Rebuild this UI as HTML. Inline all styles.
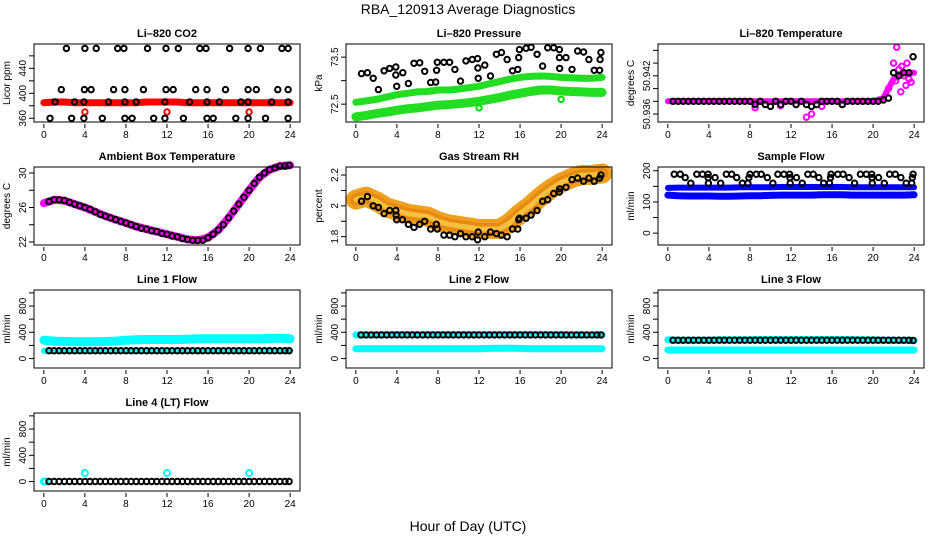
<!DOCTYPE html>
<html><head><meta charset="utf-8"><style>
html,body{margin:0;padding:0;background:#fff;}
svg{display:block;font-family:"Liberation Sans",sans-serif;}
</style></head><body>
<svg id="chart" width="936" height="540" viewBox="0 0 936 540" xmlns="http://www.w3.org/2000/svg">
<rect width="936" height="540" fill="#fff"/>
<text x="468" y="14" text-anchor="middle" font-size="14">RBA_120913  Average Diagnostics</text>
<text x="468" y="531" text-anchor="middle" font-size="14">Hour of Day (UTC)</text>
</svg>
<script>
const H25=[0,1,2,3,4,5,6,7,8,9,10,11,12,13,14,15,16,17,18,19,20,21,22,23,24];
const T48=[0.5,1,1.5,2,2.5,3,3.5,4,4.5,5,5.5,6,6.5,7,7.5,8,8.5,9,9.5,10,10.5,11,11.5,12,12.5,13,13.5,14,14.5,15,15.5,16,16.5,17,17.5,18,18.5,19,19.5,20,20.5,21,21.5,22,22.5,23,23.5,23.9];
const xTicks=[0,4,8,12,16,20,24];

// CO2
const co2Band=[385,386,386,385,385,385,385,385,385,385,386,386,386,386,385,385,385,385,385,385,385,385,385,385,385];
const co2OutT=[4,12,20];
const co2OutV=[370,370,370];
const co2BlackT=[2.2,4.0,5.1,7.2,7.8,10.1,11.9,13.1,15.2,15.8,18.1,19.9,21.1,23.2,23.8,1.7,3.95,4.6,6.8,7.9,9.7,11.9,12.6,14.8,15.9,17.7,19.9,20.7,22.8,23.8,1.1,3.0,3.9,6.3,7.9,9.0,11.8,14.2,15.9,17.1,19.2,19.9,22.2,23.8,0.6,2.7,3.9,5.7,7.9,8.6,10.7,11.8,13.6,15.9,16.5,18.7,19.9,21.6,23.8];
const co2BlackV=[472,472,472,472,472,472,472,472,472,472,472,472,472,472,472,406,406,406,406,406,406,406,406,406,406,406,406,406,406,406,386,386,386,386,386,386,386,386,386,386,386,386,386,386,360,360,360,360,360,360,360,360,360,360,360,360,360,360,360];

// Pressure
const presUpper=[72.54,72.57,72.6,72.65,72.7,72.73,72.76,72.77,72.8,72.8,72.82,72.85,72.88,72.93,72.98,73.03,73.07,73.09,73.1,73.09,73.07,73.06,73.05,73.05,73.07];
const presLower=[72.23,72.26,72.3,72.33,72.37,72.4,72.42,72.45,72.48,72.49,72.51,72.53,72.56,72.6,72.64,72.69,72.73,72.77,72.8,72.8,72.78,72.77,72.76,72.75,72.75];
const presOutT=[12,20];
const presOutV=[72.42,72.6];
const presBlackT=[0.55,1.13,1.69,2.2,2.75,3.3,3.89,3.89,3.98,4.57,5.12,5.67,6.22,6.71,7.29,7.78,7.87,7.94,8.58,9.14,9.65,10.2,10.72,11.34,11.86,11.89,11.92,12.57,13.12,13.7,14.19,14.74,15.26,15.78,15.87,15.94,16.59,17.08,17.66,18.2,18.69,19.28,19.83,19.83,19.86,20.48,21.06,21.61,22.19,22.71,23.23,23.75,23.8,23.88];
const presBlackV=[73.15,73.17,73.05,72.81,73.21,73.26,73.29,73.12,72.88,73.17,72.94,73.37,73.38,73.2,72.96,72.97,73.22,73.39,73.39,73.39,73.24,72.99,73.42,73.45,73.47,73.27,73.05,73.33,73.1,73.56,73.6,73.45,73.21,73.24,73.49,73.66,73.69,73.71,73.56,73.31,73.7,73.7,73.66,73.49,73.26,73.49,73.24,73.63,73.61,73.45,73.22,73.22,73.45,73.6];

// Li-820 temperature
const ltBand=[50.938,50.938,50.938,50.938,50.938,50.938,50.938,50.938,50.938,50.938,50.938,50.938,50.938,50.938,50.938,50.938,50.938,50.938,50.938,50.938,50.938,50.9385,50.9415,50.9425,50.9425];
const ltOutT=[21.5,22,22.3,22.5,22.8,23,23.3,23.5,23.7,22.7,13.5,14,8.5,17,11,15,22.2,23.2];
const ltOutV=[50.940,50.944,50.9465,50.943,50.9435,50.942,50.944,50.9415,50.941,50.9395,50.9355,50.936,50.937,50.9375,50.9373,50.9372,50.9412,50.9405];
const ltBlackV=[50.938,50.938,50.938,50.938,50.938,50.938,50.938,50.938,50.938,50.938,50.938,50.938,50.938,50.938,50.938,50.938,50.9375,50.938,50.9375,50.9372,50.938,50.9375,50.938,50.938,50.9375,50.938,50.9375,50.9372,50.9375,50.938,50.938,50.938,50.938,50.9375,50.938,50.938,50.938,50.938,50.938,50.938,50.938,50.9382,50.9385,50.9425,50.942,50.9425,50.9425,50.945];

// Ambient box temperature
const ambBand=[26.5,26.9,26.8,26.4,26.0,25.5,25.0,24.6,24.2,23.8,23.5,23.2,22.9,22.6,22.3,22.2,22.5,23.4,24.8,26.4,28.0,29.5,30.4,30.8,30.9];
const ambBlackV=[26.7,26.9,26.9,26.8,26.6,26.4,26.2,26.0,25.8,25.5,25.2,25.0,24.8,24.6,24.4,24.2,24.0,23.8,23.6,23.5,23.3,23.2,23.0,22.9,22.7,22.6,22.4,22.3,22.2,22.2,22.2,22.5,22.9,23.4,24.0,24.8,25.6,26.4,27.2,28.0,28.8,29.5,30.0,30.4,30.6,30.8,30.8,30.9];

// Gas stream RH
const rhBand=[2.04,2.06,2.03,1.99,1.97,1.95,1.94,1.93,1.9,1.88,1.87,1.86,1.85,1.85,1.85,1.89,1.95,2.0,2.06,2.11,2.15,2.18,2.2,2.2,2.21];
const rhBlackT=[0.55,1.13,1.69,2.2,2.75,3.3,3.89,3.92,3.98,4.54,5.12,5.67,6.22,6.71,7.29,7.84,7.94,8.58,9.14,9.65,10.2,10.72,11.34,11.86,11.92,12.57,13.12,13.7,14.19,14.74,15.26,15.78,15.87,15.94,16.59,17.08,17.66,18.2,18.69,19.28,19.83,19.86,20.48,21.06,21.61,22.19,22.71,23.23,23.75,23.88];
const rhBlackV=[2.03,2.06,2.0,1.99,1.95,1.97,1.97,1.94,1.91,1.91,1.88,1.86,1.88,1.9,1.85,1.88,1.85,1.81,1.81,1.8,1.82,1.8,1.8,1.78,1.83,1.8,1.83,1.82,1.81,1.8,1.85,1.85,1.91,1.92,1.92,1.94,1.97,2.03,2.04,2.08,2.09,2.11,2.12,2.17,2.18,2.16,2.18,2.16,2.18,2.2];

// Sample flow
const sfUpper=[145,146,146,146,146,146,146,147,147,147,147,148,148,148,148,148,148,148,147,147,147,147,147,147,147];
const sfLower=[122,120,119,119,119,118,118,119,120,120,121,122,122,122,122,123,123,123,122,122,122,122,122,122,123];
const sfBlackT=[0.62,1.2,1.69,2.24,2.82,3.37,3.92,3.92,3.95,4.6,5.15,5.7,6.22,6.71,7.26,7.8,7.9,8.0,8.62,9.1,9.69,10.24,10.72,11.31,11.86,11.89,11.92,12.54,13.09,13.64,14.16,14.71,15.19,15.75,15.85,15.9,16.56,17.08,17.66,18.2,18.76,19.34,19.86,19.89,19.92,20.54,21.09,21.61,22.16,22.71,23.23,23.76,23.82,23.9];
const sfBlackV=[189,189,178,160,189,189,189,178,160,178,160,189,189,178,160,160,178,189,189,189,178,160,189,189,189,178,160,178,160,189,189,178,160,160,178,189,189,189,178,160,189,189,189,178,160,178,160,189,189,178,160,160,178,189];

// Line flows
const l1CyanUpper=[280,265,260,255,255,255,260,265,280,285,290,290,290,290,295,300,300,300,300,300,300,300,305,310,300];
const l1CyanLower=[120,120,120,120,120,120,120,120,120,120,120,120,120,120,120,120,120,120,120,120,120,120,120,120,120];
const l1BlackV=[120,120,120,120,120,120,120,120,120,120,120,120,120,120,120,120,120,120,120,120,120,120,120,120,120,120,120,120,120,120,120,120,120,120,120,120,120,120,120,120,120,120,120,120,120,120,120,120];
const l2CyanUpper=[360,360,360,365,365,365,365,365,365,365,365,365,365,365,365,365,365,365,365,365,365,360,360,360,360];
const l2CyanLower=[150,148,148,150,150,150,150,150,150,150,150,150,150,155,158,158,155,150,150,150,150,150,148,148,150];
const l2BlackV=[360,360,360,360,360,360,360,360,360,360,360,360,360,360,360,360,360,360,360,360,360,360,360,360,360,360,360,360,360,360,360,360,360,360,360,360,360,360,360,360,360,360,360,360,360,360,360,360];
const l3CyanUpper=[285,280,280,280,280,285,285,285,285,290,290,290,290,290,290,290,290,290,290,285,285,280,280,275,275];
const l3CyanLower=[130,130,130,130,130,130,130,130,130,130,130,130,130,130,130,130,130,130,130,130,130,130,130,130,130];
const l3BlackV=[280,280,280,280,280,280,280,280,280,280,280,280,280,280,280,280,280,280,280,280,280,280,280,280,280,280,280,280,280,280,280,280,280,280,280,280,280,280,280,280,280,280,280,280,280,280,280,275];
const l4CyanT=[0,0.15,4,12,20];
const l4CyanV=[0,0,130,130,130];
const l4BlackV=[0,0,0,0,0,0,0,0,0,0,0,0,0,0,0,0,0,0,0,0,0,0,0,0,0,0,0,0,0,0,0,0,0,0,0,0,0,0,0,0,0,0,0,0,0,0,0,0];

const NS="http://www.w3.org/2000/svg";
const svg=document.getElementById('chart');
const colL=[34,346,658], rowT=[44,167,290,413], PW=266, PH=78;
const XMIN=-0.96, XMAX=24.96;

function mk(tag,attrs,parent){const e=document.createElementNS(NS,tag);for(const k in attrs)e.setAttribute(k,attrs[k]);(parent||svg).appendChild(e);return e;}

function makePanel(col,row,title,ylab,ylim,yticks,ylabels){
  const L=colL[col],T=rowT[row];
  const g=mk('g',{});
  
  
  const sx=t=>L+(t-XMIN)/(XMAX-XMIN)*PW;
  const sy=v=>T+PH-(v-ylim[0])/(ylim[1]-ylim[0])*PH;
  const tt=mk('text',{x:L+PW/2,y:T-7,'text-anchor':'middle','font-size':'11','font-weight':'bold'},g);
  tt.textContent=title;
  
  
  const yl=mk('text',{transform:`translate(${L-24},${T+PH/2}) rotate(-90)`,'text-anchor':'middle','font-size':'10'},g);
  yl.textContent=ylab;
  
  
  xTicks.forEach(t=>{
    const x=sx(t);
    const tk=mk('line',{x1:x,y1:T+PH+2,x2:x,y2:T+PH+6,stroke:'#000','stroke-width':1},g);
    
    
    const lb=mk('text',{x:x,y:T+PH+16,'text-anchor':'middle','font-size':'10'},g);
    lb.textContent=t;
    
    
  });
  yticks.forEach(v=>{
    const y=sy(v);
    const tk=mk('line',{x1:L-5,y1:y,x2:L,y2:y,stroke:'#000','stroke-width':1},g);
    
    
  });
  ylabels.forEach(v=>{
    const y=sy(v);
    const lb=mk('text',{transform:`translate(${L-8},${y}) rotate(-90)`,'text-anchor':'middle','font-size':'10'},g);
    lb.textContent=String(v);
    
    
  });
  const marks=mk('g',{},g);
  
  
  const box=mk('rect',{x:L,y:T,width:PW,height:PH,fill:'none',stroke:'#000','stroke-width':1},g);
  
  
  return {sx,sy,g:marks};
}
function band(p,ts,vs,color,w,name){
  const pts=ts.map((t,i)=>p.sx(t).toFixed(1)+','+p.sy(vs[i]).toFixed(1)).join(' ');
  const pl=mk('polyline',{points:pts,fill:'none',stroke:color,'stroke-width':w,'stroke-linejoin':'round','stroke-linecap':'round'},p.g);
  
  
}
function pts(p,ts,vs,color,name,r){
  ts.forEach((t,i)=>{
    const c=mk('circle',{cx:p.sx(t).toFixed(1),cy:p.sy(vs[i]).toFixed(1),r:r||2.7,fill:'none',stroke:color,'stroke-width':2},p.g);
    
    
  });
}

let p;
p=makePanel(0,0,'Li\u2013820 CO2','Licor ppm',[354,479],[360,380,400,420,440,460],[360,400,440]);
band(p,H25,co2Band,'#ff0000',7,'co2-band');
pts(p,co2OutT,co2OutV,'#ff0000','co2-outlier');
pts(p,co2BlackT,co2BlackV,'#000','co2-point');

p=makePanel(1,0,'Li\u2013820 Pressure','kPa',[72.12,73.78],[72.5,73.0,73.5],[72.5,73.5]);
band(p,H25,presUpper,'#22dd22',7,'pressure-upper-band');
band(p,H25,presLower,'#22dd22',9,'pressure-lower-band');
pts(p,presOutT,presOutV,'#00dd00','pressure-outlier');
pts(p,presBlackT,presBlackV,'#000','pressure-point');

p=makePanel(2,0,'Li\u2013820 Temperature','degrees C',[50.93475,50.947],[50.936,50.938,50.940,50.942,50.944,50.946],[50.936,50.942]);
band(p,H25,ltBand,'#ff00ff',6,'temperature-band');
pts(p,ltOutT,ltOutV,'#ff00ff','temperature-outlier');
pts(p,T48,ltBlackV,'#000','temperature-point');

p=makePanel(0,1,'Ambient Box Temperature','degrees C',[21.65,30.7],[22,24,26,28,30],[22,26,30]);
band(p,H25,ambBand,'#ff00ff',8,'ambient-band');
pts(p,T48,ambBlackV,'#000','ambient-point');

p=makePanel(1,1,'Gas Stream RH','percent',[1.746,2.252],[1.8,1.9,2.0,2.1,2.2],[1.8,2.0,2.2]);
band(p,H25,rhBand,'#f0a020',20,'rh-band');
band(p,H25,rhBand,'#e88a10',12,'rh-band-mid');
band(p,H25,rhBand,'#f5c040',5,'rh-band-core');
pts(p,rhBlackT,rhBlackV,'#000','rh-point');

p=makePanel(2,1,'Sample Flow','ml/min',[-38,212],[0,50,100,150,200],[0,100,200]);
band(p,H25,sfUpper,'#0000ff',6,'sample-flow-upper-band');
band(p,H25,sfLower,'#0000ff',7,'sample-flow-lower-band');
pts(p,sfBlackT,sfBlackV,'#000','sample-flow-point');

const flowTicks=[0,200,400,600,800,1000], flowLabels=[0,400,800], flowLim=[-144,1044];
p=makePanel(0,2,'Line 1 Flow','ml/min',flowLim,flowTicks,flowLabels);
band(p,H25,l1CyanUpper,'#00ffff',9,'line1-upper-band');
band(p,H25,l1CyanLower,'#00ffff',6,'line1-lower-band');
pts(p,T48,l1BlackV,'#000','line1-point');

p=makePanel(1,2,'Line 2 Flow','ml/min',flowLim,flowTicks,flowLabels);
band(p,H25,l2CyanUpper,'#00ffff',7,'line2-upper-band');
band(p,H25,l2CyanLower,'#00ffff',7,'line2-lower-band');
pts(p,T48,l2BlackV,'#000','line2-point');

p=makePanel(2,2,'Line 3 Flow','ml/min',flowLim,flowTicks,flowLabels);
band(p,H25,l3CyanUpper,'#00ffff',7,'line3-upper-band');
band(p,H25,l3CyanLower,'#00ffff',7,'line3-lower-band');
pts(p,T48,l3BlackV,'#000','line3-point');

p=makePanel(0,3,'Line 4 (LT) Flow','ml/min',flowLim,flowTicks,flowLabels);
pts(p,l4CyanT,l4CyanV,'#00ffff','line4-cyan-point',3);
pts(p,T48,l4BlackV,'#000','line4-point');
</script>
</body></html>
